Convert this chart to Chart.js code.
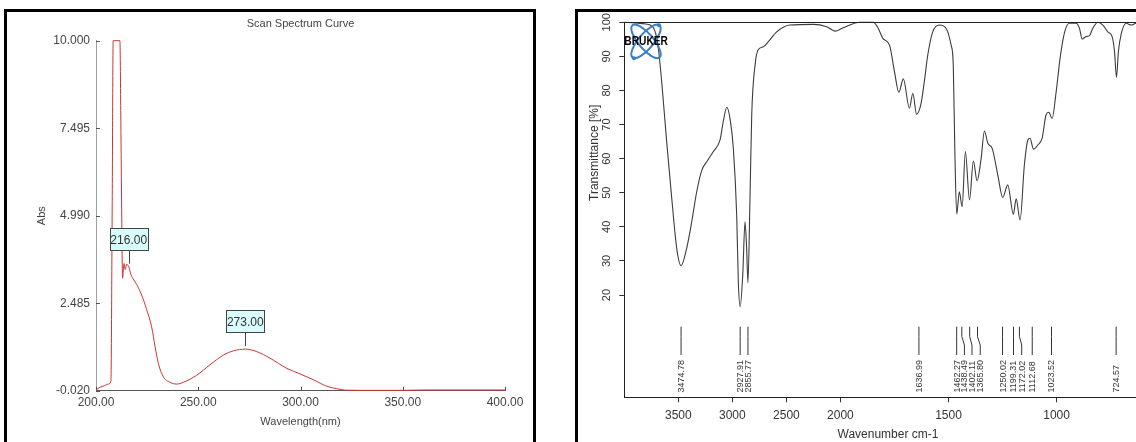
<!DOCTYPE html>
<html><head><meta charset="utf-8">
<script src="https://cdn.jsdelivr.net/npm/chart.js@4/dist/chart.umd.min.js"></script>
<style>
html,body{margin:0;padding:0;background:#fff;overflow:hidden;width:1136px;height:442px;position:relative;}
.box{position:absolute;border:3px solid #000;box-sizing:border-box;}
#boxL{left:4px;top:9px;width:532px;height:470px;}
#boxR{left:575px;top:9px;width:640px;height:470px;}
canvas{position:absolute;top:0;}
#uv{left:0;}
#ir{left:578px;}
</style></head><body>
<div class="box" id="boxL"></div><div class="box" id="boxR"></div>
<canvas id="uv" width="568" height="442"></canvas>
<canvas id="ir" width="640" height="442"></canvas>
<script>
// ---------- UV-Vis scan data ----------
const UV_WAVELENGTH = [200, 202, 204, 206, 207.3, 207.9, 208.4, 211.7, 212.1, 212.5, 213.0, 213.7, 214.3, 215.0, 216, 217.1, 218.5, 219.9, 222.3, 224.8, 227.2, 228.9, 230.5, 232.9, 236.2, 239.5, 242.7, 249.2, 255.7, 262.3, 267.2, 273, 278.6, 285.1, 293.3, 299.8, 306.4, 312.8, 319.3, 322, 330, 350, 360, 400];
const UV_ABS = [0.0, 0.08, 0.12, 0.17, 0.25, 5.1, 10.0, 10.0, 8.0, 5.5, 3.2, 3.62, 3.45, 3.6, 3.53, 3.3, 3.15, 3.02, 2.72, 2.3, 1.81, 1.24, 0.76, 0.38, 0.22, 0.17, 0.22, 0.42, 0.72, 1.0, 1.12, 1.17, 1.10, 0.91, 0.62, 0.46, 0.29, 0.11, 0.02, -0.005, -0.01, -0.01, 0.0, 0.0];
const UV_X_TICKS = [200, 250, 300, 350, 400];
const UV_Y_TICKS = [-0.020, 2.485, 4.990, 7.495, 10.000];
const UV_PEAKS = [216, 273];

// ---------- FT-IR data ----------
const IR_WAVENUMBER = [4000, 3900, 3800, 3740, 3700, 3685, 3654, 3608, 3561, 3515, 3475, 3423, 3376, 3330, 3284, 3237, 3176, 3114, 3084, 3052, 3022, 2991, 2960, 2945, 2928, 2904, 2883, 2868, 2856, 2837, 2821, 2790, 2760, 2713, 2667, 2590, 2467, 2251, 2127, 2050, 1987, 1909, 1848, 1825, 1804, 1773, 1750, 1730, 1709, 1681, 1665, 1648, 1627, 1612, 1596, 1573, 1542, 1511, 1488, 1478, 1471, 1462, 1450, 1437, 1422, 1403, 1385, 1368, 1349, 1334, 1318, 1298, 1272, 1249, 1226, 1200, 1187, 1169, 1149, 1133, 1123, 1107, 1087, 1067, 1049, 1036, 1021, 1002, 984, 964, 941, 910, 894, 882, 864, 848, 833, 809, 786, 763, 743, 732, 723, 714, 702, 678, 655, 632, 600, 560];
const IR_TRANSMITTANCE = [100, 99.8, 99.5, 98.8, 95.5, 92.4, 82.6, 65, 48.4, 33.7, 28.6, 33.7, 41.5, 50.3, 56.5, 59.1, 62.1, 65.5, 70.9, 75.1, 71.8, 63.0, 43.5, 23.9, 16.6, 25.9, 41.5, 33.7, 23.6, 48.4, 72.8, 87.5, 92.0, 92.8, 94.3, 97.2, 99.2, 99.4, 98.7, 97.4, 98.4, 100, 100, 98.2, 95.3, 93.3, 85.5, 79.5, 83.4, 74.8, 79.2, 73.0, 76.2, 82.6, 90.4, 97.2, 99.2, 98.2, 93.3, 87.5, 63, 43.7, 50.3, 45.9, 62.1, 47.9, 59.3, 53.5, 60.1, 68.1, 64.5, 63, 55.2, 48.6, 52.3, 43.7, 48.2, 42.0, 58.2, 65.5, 66.0, 62.8, 64, 66, 72.8, 73.6, 71.8, 79.6, 89.4, 96.8, 99.7, 99.7, 98.2, 95.1, 95.8, 96.1, 98.2, 100, 99.2, 97.2, 95.8, 91.4, 83.8, 91.4, 96.3, 99.7, 99.2, 99.7, 99.5, 99.5];
const IR_X_TICKS = [3500, 3000, 2500, 2000, 1500, 1000];
const IR_Y_TICKS = [20, 30, 40, 50, 60, 70, 80, 90, 100];
const IR_PEAKS = [3474.78, 2927.91, 2855.77, 1636.99, 1462.27, 1438.49, 1402.11, 1365.80, 1250.02, 1199.31, 1172.02, 1112.68, 1023.52, 724.57];
// label-leader nudges (style only, px)
const IR_PEAK_NUDGE = {1438.49: 2.6, 1402.11: 2.3, 1365.80: 2.7, 1172.02: 2.3};

// wavenumber axis is compressed 2:1 above 2000 cm-1
const toU = w => w > 2000 ? 2000 + (w - 2000) / 2 : w;
const fromU = u => u > 2000 ? 2000 + (u - 2000) * 2 : u;

Chart.defaults.font.family = '"Liberation Sans", Arial, sans-serif';
Chart.defaults.animation = false;

// ---------- UV chart ----------
const uvPlugin = {
  id: 'uvExtras',
  afterDraw(chart) {
    const {ctx, chartArea: a, scales: {x, y}} = chart;
    ctx.save();
    ctx.strokeStyle = '#555'; ctx.lineWidth = 1;
    UV_Y_TICKS.forEach(v => {
      const py = Math.round(y.getPixelForValue(v)) + 0.5;
      ctx.beginPath(); ctx.moveTo(a.left, py); ctx.lineTo(a.left + 4, py); ctx.stroke();
    });
    UV_X_TICKS.forEach(v => {
      const px = Math.round(x.getPixelForValue(v)) + 0.5;
      ctx.beginPath(); ctx.moveTo(px, a.bottom); ctx.lineTo(px, a.bottom - 4); ctx.stroke();
    });
    ctx.font = '12px "Liberation Sans", Arial, sans-serif';
    UV_PEAKS.forEach(w => {
      const i = UV_WAVELENGTH.indexOf(w);
      const px = x.getPixelForValue(w), py = y.getPixelForValue(UV_ABS[i]);
      const lx = Math.round(px) + 0.5;
      ctx.strokeStyle = '#444';
      ctx.beginPath(); ctx.moveTo(lx, py - 3); ctx.lineTo(lx, py - 17); ctx.stroke();
      const bw = 38, bh = 22;
      const bx = Math.round(px - bw / 2) + 0.5, by = Math.round(py - 17 - bh) + 0.5;
      ctx.fillStyle = '#d8fbfb'; ctx.fillRect(bx, by, bw, bh); ctx.strokeRect(bx, by, bw, bh);
      ctx.fillStyle = '#333'; ctx.textAlign = 'center'; ctx.textBaseline = 'middle';
      ctx.fillText(w.toFixed(2), px, by + bh / 2 + 1);
    });
    ctx.restore();
  }
};

new Chart(document.getElementById('uv'), {
  type: 'line',
  data: {datasets: [{
    data: UV_WAVELENGTH.map((w, i) => ({x: w, y: UV_ABS[i]})),
    borderColor: '#cc3333', borderWidth: 1, pointRadius: 0,
    cubicInterpolationMode: 'monotone', clip: false
  }]},
  options: {
    responsive: false, animation: false, devicePixelRatio: 1,
    layout: {padding: {left: 4, right: 63, top: 10, bottom: 0}},
    plugins: {
      legend: {display: false}, tooltip: {enabled: false},
      title: {display: true, text: 'Scan Spectrum Curve', fullSize: false, color: '#444',
        font: {size: 11, weight: 'normal'}, padding: {top: 7.4, bottom: 10.1}}
    },
    scales: {
      x: {type: 'linear', min: 200, max: 400,
        afterBuildTicks: s => { s.ticks = UV_X_TICKS.map(v => ({value: v})); },
        afterFit: s => { s.height = 51.3; },
        ticks: {callback: v => Number(v).toFixed(2), color: '#444', font: {size: 12}, padding: 5.1, maxRotation: 0, autoSkip: false},
        grid: {display: false, drawOnChartArea: false, drawTicks: false},
        border: {display: true, color: '#555', width: 1},
        title: {display: true, text: 'Wavelength(nm)', color: '#444', font: {size: 11}, padding: {top: 0, bottom: 13.7}}
      },
      y: {type: 'linear', min: -0.02, max: 10,
        afterBuildTicks: s => { s.ticks = UV_Y_TICKS.map(v => ({value: v})); },
        afterFit: s => { s.width = 92; },
        ticks: {callback: v => Number(v).toFixed(3), color: '#444', font: {size: 12}, padding: 6, autoSkip: false},
        grid: {display: false, drawOnChartArea: false, drawTicks: false},
        border: {display: true, color: '#a0a0a0', width: 1},
        title: {display: true, text: 'Abs', color: '#444', font: {size: 11}, padding: {top: 31.4, bottom: 0}}
      }
    }
  },
  plugins: [uvPlugin]
});

// ---------- IR chart ----------
const irPlugin = {
  id: 'irExtras',
  afterDatasetsDraw(chart) {
    const {ctx, chartArea: a, scales: {x, y}} = chart;
    ctx.save();
    // top frame line
    ctx.strokeStyle = '#222'; ctx.lineWidth = 1;
    const ty = Math.round(a.top) + 0.5;
    ctx.beginPath(); ctx.moveTo(a.left, ty); ctx.lineTo(a.right, ty); ctx.stroke();
    // rotated y tick labels
    ctx.fillStyle = '#333';
    ctx.font = '11px "Liberation Sans", Arial, sans-serif';
    ctx.textAlign = 'center'; ctx.textBaseline = 'middle';
    IR_Y_TICKS.forEach(v => {
      const py = y.getPixelForValue(v);
      ctx.save(); ctx.translate(a.left - 17, py); ctx.rotate(-Math.PI / 2);
      ctx.fillText(String(v), 0, 0); ctx.restore();
    });
    // y title
    ctx.font = '12px "Liberation Sans", Arial, sans-serif';
    ctx.save(); ctx.translate(a.left - 29.8, y.getPixelForValue(61.7)); ctx.rotate(-Math.PI / 2);
    ctx.fillText('Transmittance [%]', 0, 0); ctx.restore();
    // peak leaders and labels
    ctx.strokeStyle = '#333'; ctx.lineWidth = 1;
    ctx.font = '9px "Liberation Sans", Arial, sans-serif';
    ctx.textAlign = 'left';
    IR_PEAKS.forEach(p => {
      const px = x.getPixelForValue(toU(p));
      const nx = px + (IR_PEAK_NUDGE[p] || 0);
      const yTop = a.bottom - 70.6, yM1 = a.bottom - 60.6, yM2 = a.bottom - 52.3, yBot = a.bottom - 42.3;
      ctx.beginPath();
      ctx.moveTo(px, yTop); ctx.lineTo(px, yM1); ctx.lineTo(nx, yM2); ctx.lineTo(nx, yBot);
      ctx.stroke();
      ctx.save(); ctx.translate(nx, a.bottom - 4.8); ctx.rotate(-Math.PI / 2);
      ctx.fillText(p.toFixed(2), 0, 0.5); ctx.restore();
    });
    // Bruker logo
    const cx = a.left + 21.7, cy = a.top + 19;
    ctx.strokeStyle = '#3b7fc4'; ctx.lineWidth = 2;
    [Math.PI / 180 * 50, -Math.PI / 180 * 50].forEach(r => {
      ctx.beginPath(); ctx.ellipse(cx, cy, 21, 7.5, r, 0, Math.PI * 2); ctx.stroke();
    });
    ctx.fillStyle = '#3b7fc4';
    [[cx - 12, cy + 17], [cx + 13, cy - 16]].forEach(([dx, dy]) => {
      ctx.beginPath(); ctx.arc(dx, dy, 2, 0, Math.PI * 2); ctx.fill();
    });
    ctx.fillStyle = '#000';
    ctx.font = 'bold 12px "Liberation Sans", Arial, sans-serif';
    ctx.textAlign = 'left'; ctx.textBaseline = 'middle';
    ctx.save(); ctx.translate(a.left, cy + 0.5); ctx.scale(0.85, 1);
    ctx.fillText('BRUKER', 0, 0); ctx.restore();
    ctx.restore();
  }
};

new Chart(document.getElementById('ir'), {
  type: 'line',
  data: {datasets: [{
    data: IR_WAVENUMBER.map((w, i) => ({x: toU(w), y: IR_TRANSMITTANCE[i]})),
    borderColor: '#3c3c3c', borderWidth: 1.1, pointRadius: 0,
    cubicInterpolationMode: 'monotone', clip: false
  }]},
  options: {
    responsive: false, animation: false, devicePixelRatio: 1,
    layout: {padding: {left: 0, right: 66.3, top: 22.3, bottom: 0}},
    plugins: {legend: {display: false}, tooltip: {enabled: false}, title: {display: false}},
    scales: {
      x: {type: 'linear', reverse: true, min: 560, max: 3000,
        afterBuildTicks: s => { s.ticks = IR_X_TICKS.map(w => ({value: toU(w)})); },
        afterFit: s => { s.height = 44.7; },
        ticks: {callback: v => String(Math.round(fromU(v))), color: '#333', font: {size: 12}, padding: 6.2, maxRotation: 0, autoSkip: false},
        grid: {display: true, drawOnChartArea: false, drawTicks: true, tickLength: 5, color: '#333'},
        border: {display: true, color: '#222', width: 1},
        title: {display: true, text: 'Wavenumber cm-1', color: '#333', font: {size: 12}, padding: {top: 0, bottom: 0}}
      },
      y: {type: 'linear', min: -10, max: 100,
        afterBuildTicks: s => { s.ticks = IR_Y_TICKS.map(v => ({value: v})); },
        afterFit: s => { s.width = 46.3; },
        ticks: {display: false},
        grid: {display: true, drawOnChartArea: false, drawTicks: true, tickLength: 5, color: '#333'},
        border: {display: true, color: '#222', width: 1}
      }
    }
  },
  plugins: [irPlugin]
});
</script></body></html>
